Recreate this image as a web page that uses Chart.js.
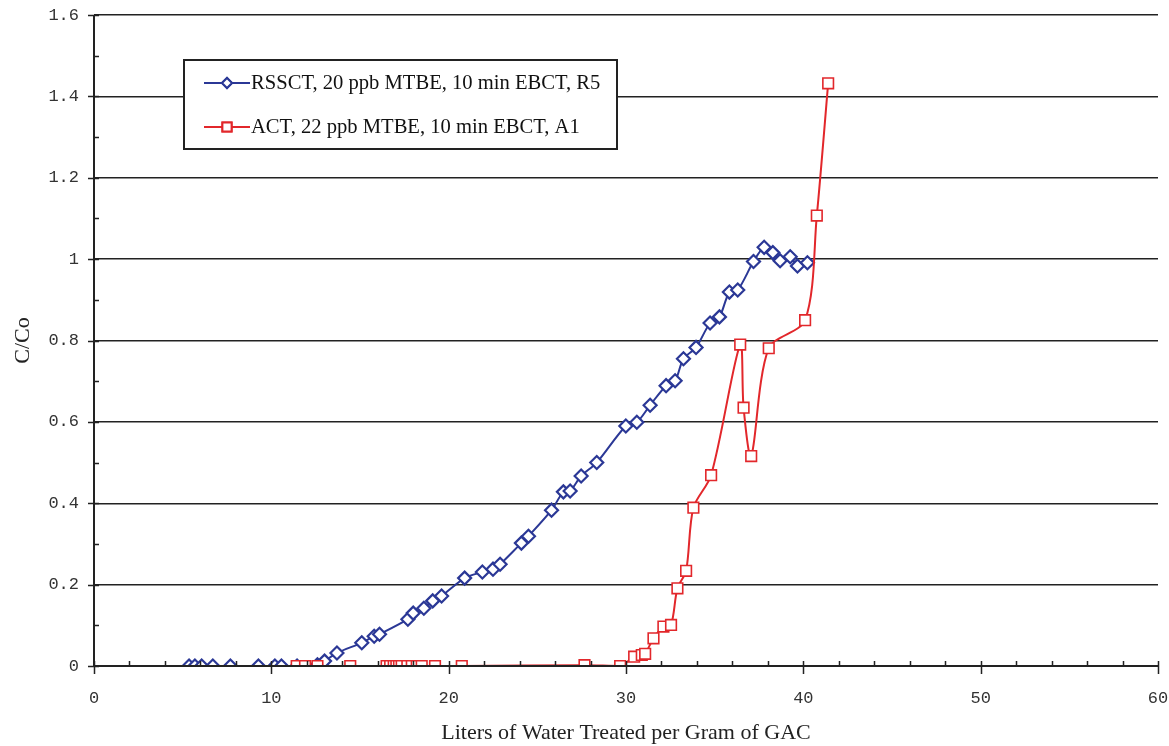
<!DOCTYPE html>
<html>
<head>
<meta charset="utf-8">
<script src="https://cdn.jsdelivr.net/npm/chart.js@4.4.1/dist/chart.umd.min.js"></script>
<style>
  html, body { margin: 0; padding: 0; background: #fff; }
  #wrap { width: 1169px; height: 746px; position: relative; }
</style>
</head>
<body>
<div id="wrap"><canvas id="grafico" width="1169" height="746"></canvas></div>
<script>
// Datos
const etiquetaRsscT = 'RSSCT, 20 ppb MTBE, 10 min EBCT, R5';
const etiquetaAct = 'ACT, 22 ppb MTBE, 10 min EBCT, A1';

const rssctX = [5.36, 5.69, 6.07, 6.70, 7.69, 9.27, 10.2, 10.57, 11.45, 12.6, 13.0, 13.7, 15.1, 15.8, 16.1, 17.7, 18.0, 18.6, 19.1, 19.6, 20.9, 21.9, 22.5, 22.9, 24.1, 24.5, 25.8, 26.47, 26.85, 27.47, 28.35, 29.99, 30.61, 31.36, 32.26, 32.77, 33.24, 33.95, 34.74, 35.27, 35.83, 36.3, 37.19, 37.79, 38.28, 38.69, 39.26, 39.67, 40.23];
const rssctY = [0, 0, 0, 0, 0, 0, 0, 0, 0, 0.003, 0.012, 0.032, 0.057, 0.073, 0.078, 0.115, 0.13, 0.142, 0.16, 0.172, 0.216, 0.231, 0.238, 0.25, 0.302, 0.319, 0.383, 0.428, 0.43, 0.467, 0.50, 0.59, 0.599, 0.641, 0.689, 0.701, 0.755, 0.783, 0.843, 0.858, 0.919, 0.924, 0.994, 1.029, 1.016, 0.996, 1.006, 0.983, 0.991];

const actX = [11.43, 11.9, 12.6, 14.45, 16.5, 16.7, 16.9, 17.05, 17.2, 17.35, 17.67, 17.92, 18.2, 18.48, 19.23, 20.74, 27.66, 29.67, 30.46, 30.89, 31.08, 31.55, 32.11, 32.54, 32.9, 33.39, 33.8, 34.8, 36.44, 36.63, 37.06, 38.05, 40.1, 40.76, 41.4];
const actY = [0, 0, 0, 0, 0, 0, 0, 0, 0, 0, 0, 0, 0, 0, 0, 0, 0.002, 0, 0.023, 0.027, 0.03, 0.068, 0.097, 0.101, 0.191, 0.234, 0.389, 0.469, 0.79, 0.635, 0.516, 0.781, 0.85, 1.107, 1.432];

const ticksX = [0, 10, 20, 30, 40, 50, 60];
const ticksY = [0, 0.2, 0.4, 0.6, 0.8, 1, 1.2, 1.4, 1.6];

const colorAzul = '#2b3896';
const colorRojo = '#e2272b';

function armarPuntos(xs, ys) {
    return xs.map((x, i) => ({ x: x, y: ys[i] }));
}

// Ejes, marcas menores y leyenda dibujados a mano
const pluginEjes = {
    id: 'ejes',
    afterDatasetsDraw(chart) {
        const ctx = chart.ctx;
        const area = chart.chartArea;
        const sx = chart.scales.x;
        const sy = chart.scales.y;
        ctx.save();
        ctx.strokeStyle = '#222';
        ctx.lineWidth = 2;
        ctx.beginPath();
        ctx.moveTo(area.left, area.top);
        ctx.lineTo(area.left, area.bottom);
        ctx.lineTo(area.right, area.bottom);
        ctx.stroke();

        ctx.lineWidth = 1.5;
        ctx.beginPath();
        // eje y: mayores cruzan, menores hacia dentro
        for (let v = 0; v <= 16; v++) {
            const py = Math.round(sy.getPixelForValue(v / 10)) + 0.5;
            if (v % 2 === 0) {
                ctx.moveTo(area.left - 6, py);
                ctx.lineTo(area.left + 5, py);
            } else {
                ctx.moveTo(area.left, py);
                ctx.lineTo(area.left + 5, py);
            }
        }
        // eje x
        for (let v = 0; v <= 60; v += 2) {
            const px = Math.round(sx.getPixelForValue(v)) + 0.5;
            if (v % 10 === 0) {
                ctx.moveTo(px, area.bottom - 5);
                ctx.lineTo(px, area.bottom + 8);
            } else {
                ctx.moveTo(px, area.bottom - 5);
                ctx.lineTo(px, area.bottom);
            }
        }
        ctx.stroke();
        ctx.restore();
    },
    afterDraw(chart) {
        const ctx = chart.ctx;
        ctx.save();
        // caja de leyenda
        const bx = 184, by = 60, bw = 433, bh = 89;
        ctx.fillStyle = '#fff';
        ctx.fillRect(bx, by, bw, bh);
        ctx.strokeStyle = '#222';
        ctx.lineWidth = 2;
        ctx.strokeRect(bx, by, bw, bh);

        const filas = [
            { texto: etiquetaRsscT, color: colorAzul, estilo: 'rectRot', radio: 5, y: 83 },
            { texto: etiquetaAct, color: colorRojo, estilo: 'rect', radio: 6.5, y: 127 }
        ];
        filas.forEach(f => {
            ctx.strokeStyle = f.color;
            ctx.lineWidth = 2;
            ctx.beginPath();
            ctx.moveTo(204, f.y);
            ctx.lineTo(250, f.y);
            ctx.stroke();
            ctx.fillStyle = '#fff';
            Chart.helpers.drawPoint(ctx, { pointStyle: f.estilo, radius: f.radio, borderWidth: 2 }, 227, f.y);
            ctx.fill();
            ctx.stroke();
            ctx.fillStyle = '#111';
            ctx.font = '20.6px "Liberation Serif"';
            ctx.textBaseline = 'middle';
            ctx.fillText(f.texto, 251, f.y + 1);
        });
        ctx.restore();
    }
};

new Chart(document.getElementById('grafico').getContext('2d'), {
    type: 'line',
    data: {
        datasets: [{
            label: etiquetaRsscT,
            data: armarPuntos(rssctX, rssctY),
            borderColor: colorAzul,
            backgroundColor: '#fff',
            borderWidth: 2,
            pointStyle: 'rectRot',
            pointRadius: 6.5,
            pointBorderWidth: 2.2,
            pointBackgroundColor: '#fff',
            pointBorderColor: colorAzul,
            tension: 0.3,
            order: 2
        }, {
            label: etiquetaAct,
            data: armarPuntos(actX, actY),
            borderColor: colorRojo,
            backgroundColor: '#fff',
            borderWidth: 2,
            pointStyle: 'rect',
            pointRadius: 7.5,
            pointBorderWidth: 1.6,
            pointBackgroundColor: '#fff',
            pointBorderColor: colorRojo,
            tension: 0.3,
            order: 1
        }]
    },
    options: {
        responsive: false,
        animation: false,
        devicePixelRatio: 1,
        layout: { padding: { left: 0, right: 11, top: 15, bottom: 0 } },
        plugins: {
            legend: { display: false },
            tooltip: { enabled: false }
        },
        scales: {
            x: {
                type: 'linear',
                min: 0,
                max: 60,
                afterBuildTicks: s => { s.ticks = ticksX.map(v => ({ value: v })); },
                afterFit: s => { s.height = 80; s.paddingLeft = 0; s.paddingRight = 0; },
                grid: { display: false, drawTicks: false },
                border: { display: false },
                ticks: {
                    padding: 22,
                    color: '#333',
                    font: { family: '"Liberation Mono"', size: 17 },
                    maxRotation: 0
                },
                title: {
                    display: true,
                    text: 'Liters of Water Treated per Gram of GAC',
                    color: '#222',
                    font: { family: '"Liberation Serif"', size: 22 },
                    padding: { top: 10, bottom: 0 }
                }
            },
            y: {
                type: 'linear',
                min: 0,
                max: 1.6,
                afterBuildTicks: s => { s.ticks = ticksY.map(v => ({ value: v })); },
                afterFit: s => { s.width = 94; s.paddingTop = 0; s.paddingBottom = 0; },
                grid: {
                    color: '#222',
                    lineWidth: ctx => (ctx.tick && ctx.tick.value === 0 ? 0 : 1.5),
                    drawTicks: false
                },
                border: { display: false },
                ticks: {
                    padding: 15,
                    color: '#333',
                    font: { family: '"Liberation Mono"', size: 17 },
                    callback: v => String(+v.toFixed(1))
                },
                title: {
                    display: true,
                    text: 'C/Co',
                    color: '#222',
                    font: { family: '"Liberation Serif"', size: 22 },
                    padding: { top: 10, bottom: 4 }
                }
            }
        }
    },
    plugins: [pluginEjes]
});
</script>
</body>
</html>
